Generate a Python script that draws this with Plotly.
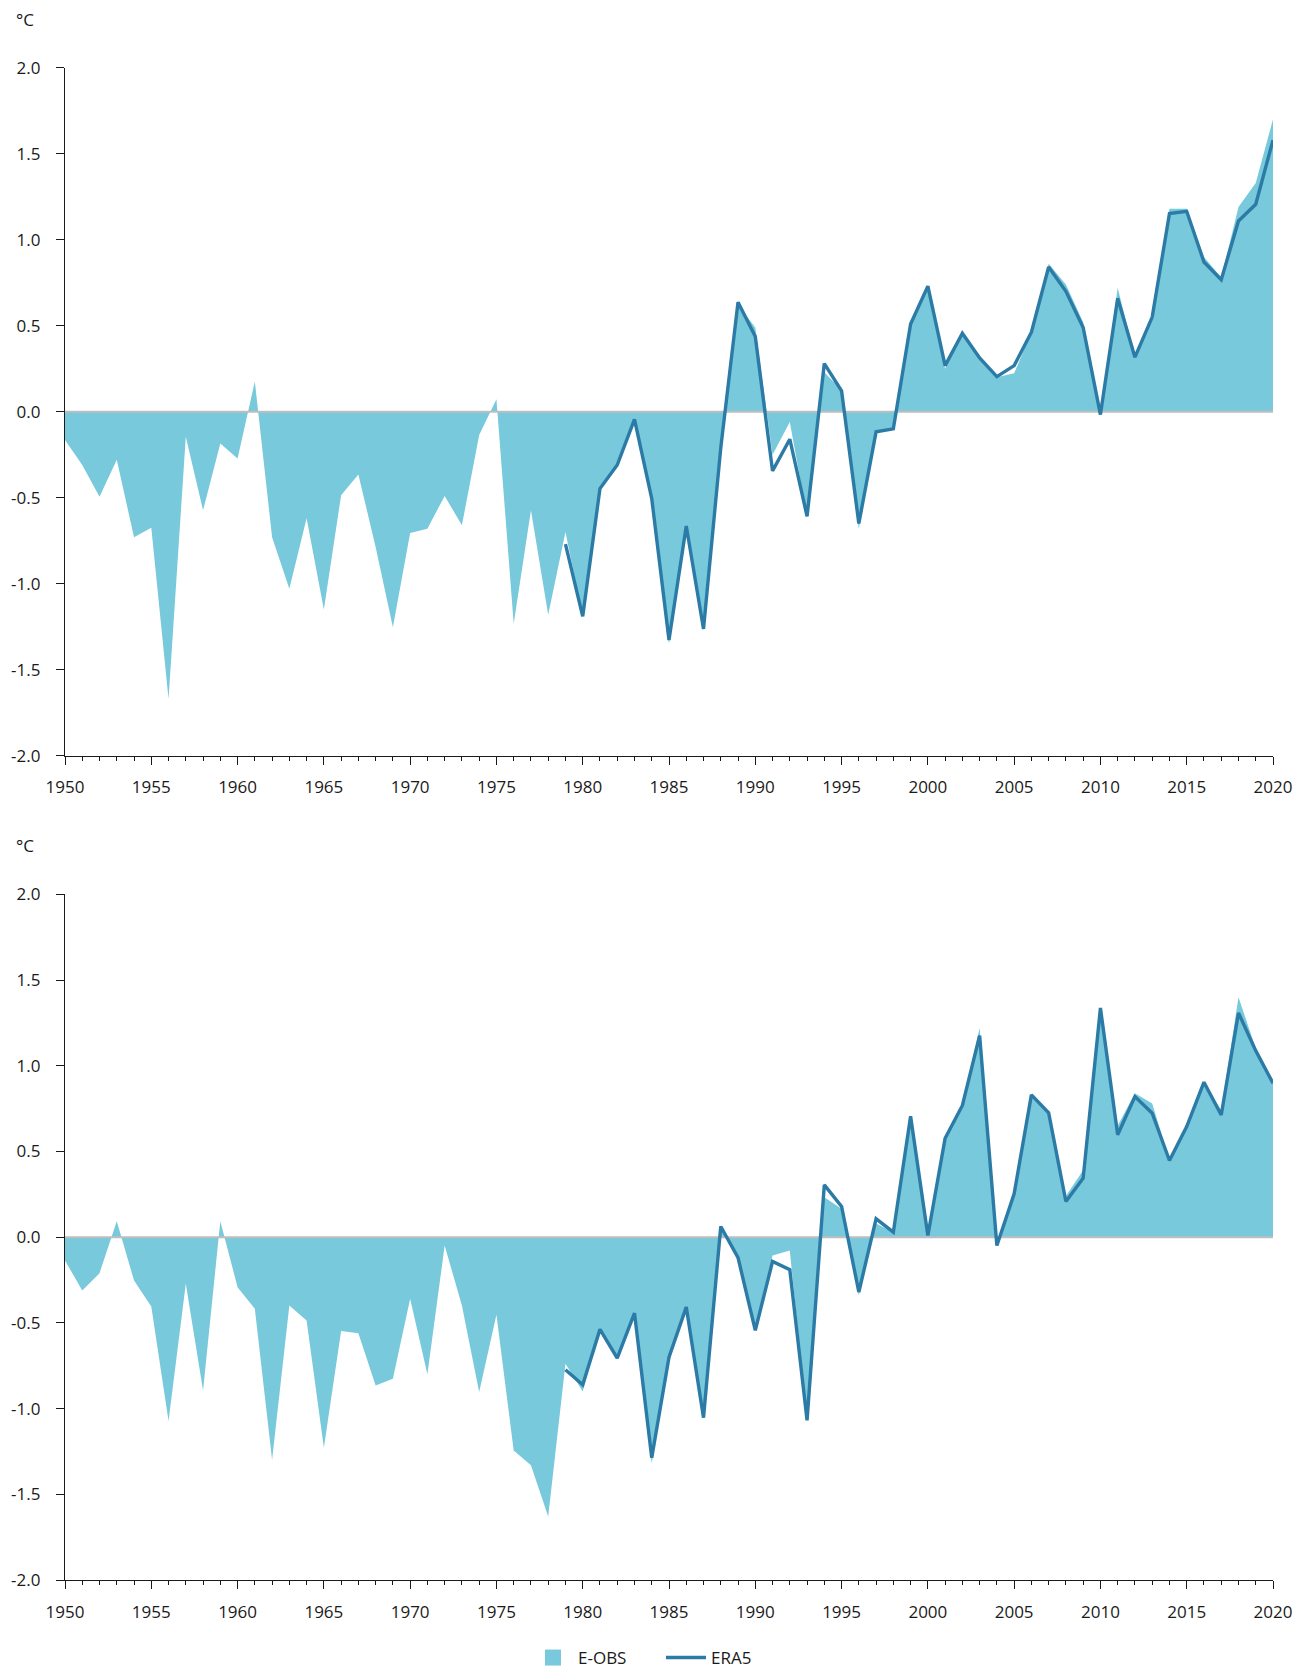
import plotly.graph_objects as go

years = list(range(1950, 2021))
era5_years = list(range(1979, 2021))

# Top panel
eobs_top = [
    -0.165, -0.31, -0.495, -0.28, -0.73, -0.675, -1.67, -0.146, -0.573, -0.185,
    -0.272, 0.175, -0.73, -1.03, -0.62, -1.15, -0.486, -0.365, -0.787, -1.253,
    -0.705, -0.68, -0.49, -0.66, -0.136, 0.072, -1.233, -0.573, -1.18, -0.70,
    -1.19, -0.45, -0.31, -0.04, -0.50, -1.35, -0.66, -1.27, -0.20, 0.62,
    0.49, -0.25, -0.06, -0.61, 0.23, 0.126, -0.68, -0.117, -0.10, 0.51,
    0.73, 0.25, 0.456, 0.313, 0.20, 0.223, 0.462, 0.86, 0.74, 0.52,
    -0.017, 0.72, 0.317, 0.55, 1.18, 1.18, 0.90, 0.78, 1.19, 1.33,
    1.70,
]
era5_top = [
    -0.77, -1.19, -0.447, -0.31, -0.045, -0.505, -1.327, -0.664, -1.263, -0.21,
    0.637, 0.437, -0.344, -0.16, -0.608, 0.28, 0.122, -0.65, -0.117, -0.10,
    0.51, 0.73, 0.268, 0.456, 0.313, 0.204, 0.268, 0.462, 0.841, 0.70,
    0.49, -0.017, 0.66, 0.317, 0.55, 1.152, 1.165, 0.87, 0.767, 1.109,
    1.206, 1.579,
]

# Bottom panel
eobs_bottom = [
    -0.136, -0.311, -0.21, 0.093, -0.253, -0.404, -1.073, -0.272, -0.894, 0.093,
    -0.292, -0.418, -1.298, -0.398, -0.486, -1.228, -0.548, -0.56, -0.865, -0.826,
    -0.36, -0.80, -0.049, -0.398, -0.904, -0.453, -1.244, -1.331, -1.629, -0.739,
    -0.90, -0.538, -0.706, -0.443, -1.32, -0.70, -0.408, -1.053, 0.062, -0.12,
    -0.544, -0.107, -0.078, -1.069, 0.233, 0.165, -0.34, 0.08, 0.029, 0.705,
    0.01, 0.577, 0.768, 1.22, -0.049, 0.253, 0.83, 0.725, 0.24, 0.39,
    1.337, 0.65, 0.84, 0.78, 0.447, 0.645, 0.904, 0.74, 1.40, 1.10,
    0.90,
]
era5_bottom = [
    -0.774, -0.861, -0.538, -0.706, -0.443, -1.287, -0.70, -0.408, -1.053, 0.062,
    -0.12, -0.544, -0.142, -0.19, -1.069, 0.305, 0.179, -0.32, 0.107, 0.029,
    0.705, 0.01, 0.577, 0.768, 1.176, -0.049, 0.253, 0.83, 0.725, 0.208,
    0.344, 1.337, 0.597, 0.82, 0.723, 0.447, 0.645, 0.904, 0.713, 1.308,
    1.088, 0.898,
]

y_tickvals = [-2.0, -1.5, -1.0, -0.5, 0.0, 0.5, 1.0, 1.5, 2.0]
y_ticktext = ["-2.0", "-1.5", "-1.0", "-0.5", "0.0", "0.5", "1.0", "1.5", "2.0"]
x_tickvals = list(range(1950, 2021, 5))
unit_label = "°C"

FILL = "rgb(119,201,219)"
LINE = "rgb(44,123,166)"
ZERO = "rgb(190,190,190)"
FONT = "Open Sans"
TXT = "#1a1a1a"

# page body has an 8px margin: figure coords = screen coords - 8
OFF = 8
W, H = 1311 - OFF, 1668 - OFF
ML, MR, MT, MB = 65 - OFF, W - (1273 - OFF), 50, 52
PW, PH = W - ML - MR, H - MT - MB


def fy(screen_y):
    return (H - MB - (screen_y - OFF)) / PH


def fx(screen_x):
    return ((screen_x - OFF) - ML) / PW


fig = go.Figure()

panels = [
    (eobs_top, era5_top, "x", "y", True),
    (eobs_bottom, era5_bottom, "x2", "y2", False),
]
for eobs, era5, xa, ya, show in panels:
    fig.add_trace(go.Scatter(
        x=years, y=eobs, mode="lines", fill="tozeroy", fillcolor=FILL,
        line=dict(width=0, color=FILL), name="E-OBS", showlegend=False,
        xaxis=xa, yaxis=ya,
    ))
    fig.add_trace(go.Scatter(
        x=[years[0], years[-1]], y=[0, 0], mode="lines",
        line=dict(width=2, color=ZERO), showlegend=False, hoverinfo="skip",
        xaxis=xa, yaxis=ya,
    ))
    if show:
        fig.add_trace(go.Scatter(
            x=[None], y=[None], mode="markers",
            marker=dict(symbol="square", size=16, color=FILL),
            name="E-OBS", showlegend=True, xaxis=xa, yaxis=ya,
        ))
    fig.add_trace(go.Scatter(
        x=era5_years, y=era5, mode="lines",
        line=dict(width=3.4, color=LINE), name="ERA5", showlegend=show,
        xaxis=xa, yaxis=ya,
    ))

xaxis_common = dict(
    range=[1950, 2020], tickvals=x_tickvals, ticks="outside", ticklen=8,
    tickwidth=1, tickcolor=TXT, showline=True, linecolor=TXT, linewidth=1.3,
    showgrid=False, zeroline=False, automargin=False,
    minor=dict(dtick=1, tick0=1950, ticks="outside", ticklen=4, tickcolor=TXT, tickwidth=1),
    tickfont=dict(family=FONT, size=17, color=TXT),
    ticklabelstandoff=8,
)
yaxis_common = dict(
    range=[-2, 2], tickvals=y_tickvals, ticktext=y_ticktext, ticks="outside",
    ticklen=8, tickwidth=1, tickcolor=TXT, showline=True, linecolor=TXT,
    linewidth=1.3, showgrid=False, zeroline=False, automargin=False,
    tickfont=dict(family=FONT, size=17, color=TXT),
    ticklabelstandoff=12,
)

fig.update_layout(
    width=W, height=H,
    margin=dict(l=ML, r=MR, t=MT, b=MB, autoexpand=False),
    paper_bgcolor="white", plot_bgcolor="white",
    font=dict(family=FONT, size=17, color=TXT),
    xaxis=dict(**xaxis_common, domain=[0, 1], anchor="y"),
    yaxis=dict(**yaxis_common, domain=[fy(755.7), fy(67.7)], anchor="x"),
    xaxis2=dict(**xaxis_common, domain=[0, 1], anchor="y2"),
    yaxis2=dict(**yaxis_common, domain=[fy(1580), fy(894.3)], anchor="x2"),
    legend=dict(
        orientation="h", x=fx(528), xanchor="left",
        yref="container", y=(1668 - 1658) / H, yanchor="middle",
        font=dict(family=FONT, size=17, color=TXT),
        itemwidth=40, tracegroupgap=0, bgcolor="rgba(0,0,0,0)",
        entrywidth=78, entrywidthmode="pixels",
    ),
    annotations=[
        dict(text=unit_label, xref="paper", yref="paper",
             x=fx(14), y=fy(20), xanchor="left",
             yanchor="middle", showarrow=False,
             font=dict(family=FONT, size=17, color=TXT)),
        dict(text=unit_label, xref="paper", yref="paper",
             x=fx(14), y=fy(846), xanchor="left",
             yanchor="middle", showarrow=False,
             font=dict(family=FONT, size=17, color=TXT)),
    ],
    showlegend=True,
)

fig.write_html("out.html")
